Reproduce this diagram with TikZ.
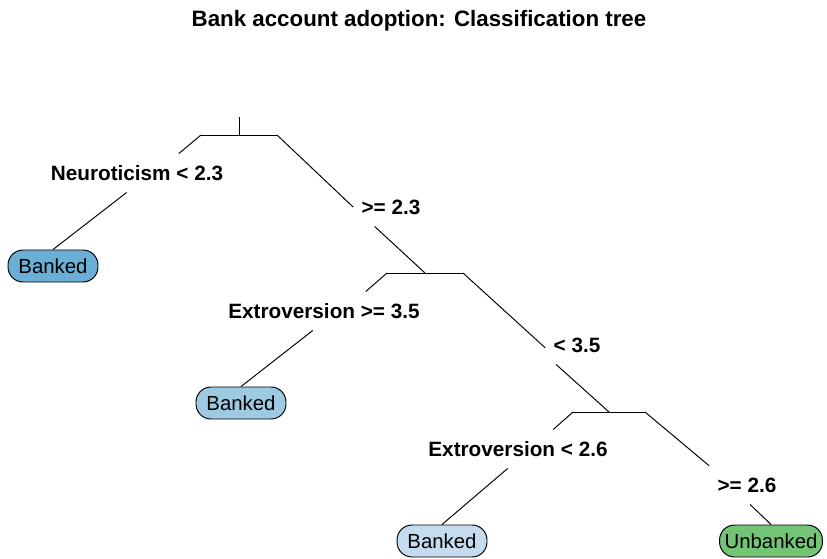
\documentclass[tikz,border=0pt]{standalone}
\usepackage{fontspec}
\setmainfont{Liberation Sans}
\definecolor{bankhi}{HTML}{6BAED6}
\definecolor{bankmid}{HTML}{9ECAE1}
\definecolor{banklo}{HTML}{C6DBEF}
\definecolor{unbank}{HTML}{74C476}

\begin{document}
\begin{tikzpicture}[x=0.02cm, y=-0.02cm, line width=0.55pt,
  split/.style = {font=\bfseries\fontsize{11.8}{14}\selectfont, inner xsep=0.16cm, inner ysep=0pt, minimum height=0.76cm},
  leaf/.style = {draw, rounded corners=0.3cm, font=\fontsize{11.6}{14}\selectfont, minimum width=1.8cm, minimum height=0.64cm, inner xsep=0.1cm, inner ysep=0pt}]
\useasboundingbox (0,0) rectangle (827,558);
\node[font=\bfseries\fontsize{12.7}{15}\selectfont, anchor=base] (title) at (419,26) {Bank account adoption: Classification tree};

\coordinate (top) at (239,117);
\coordinate (r) at (239,135);
\coordinate (rl) at (201,135);
\coordinate (rr) at (277,135);
\coordinate (n2) at (425,273);
\coordinate (n2l) at (387,273);
\coordinate (n2r) at (463,273);
\coordinate (n3) at (609,412);
\coordinate (n3l) at (573,412);
\coordinate (n3r) at (645,412);

\node[split] (s1) at (137,173) {Neuroticism < 2.3};
\node[split] (s2) at (391,207) {>= 2.3};
\node[split] (s3) at (324,311) {Extroversion >= 3.5};
\node[split] (s4) at (577,345) {< 3.5};
\node[split] (s5) at (518,449) {Extroversion < 2.6};
\node[split] (s6) at (747,485) {>= 2.6};

\node[leaf, fill=bankhi] (b1) at (53,266) {Banked};
\node[leaf, fill=bankmid] (b2) at (241,403) {Banked};
\node[leaf, fill=banklo] (b3) at (442,541) {Banked};
\node[leaf, fill=unbank] (u4) at (771,541) {Unbanked};

\draw (top) -- (r);
\draw (rl) -- (rr);
\draw (rl) -- (s1.25);
\draw (s1.242) -- (b1.north);
\draw (rr) -- (s2.180);
\draw (s2.230) -- (n2);

\draw (n2l) -- (n2r);
\draw (n2l) -- (s3.25);
\draw (s3.240) -- (b2.north);
\draw (n2r) -- (s4.185);
\draw (s4.223) -- (n3);

\draw (n3l) -- (n3r);
\draw (n3l) -- (s5.29);
\draw (s5.242) -- (b3.north);
\draw (n3r) -- (s6.153);
\draw (s6.279) -- (u4.north);
\end{tikzpicture}
\end{document}
